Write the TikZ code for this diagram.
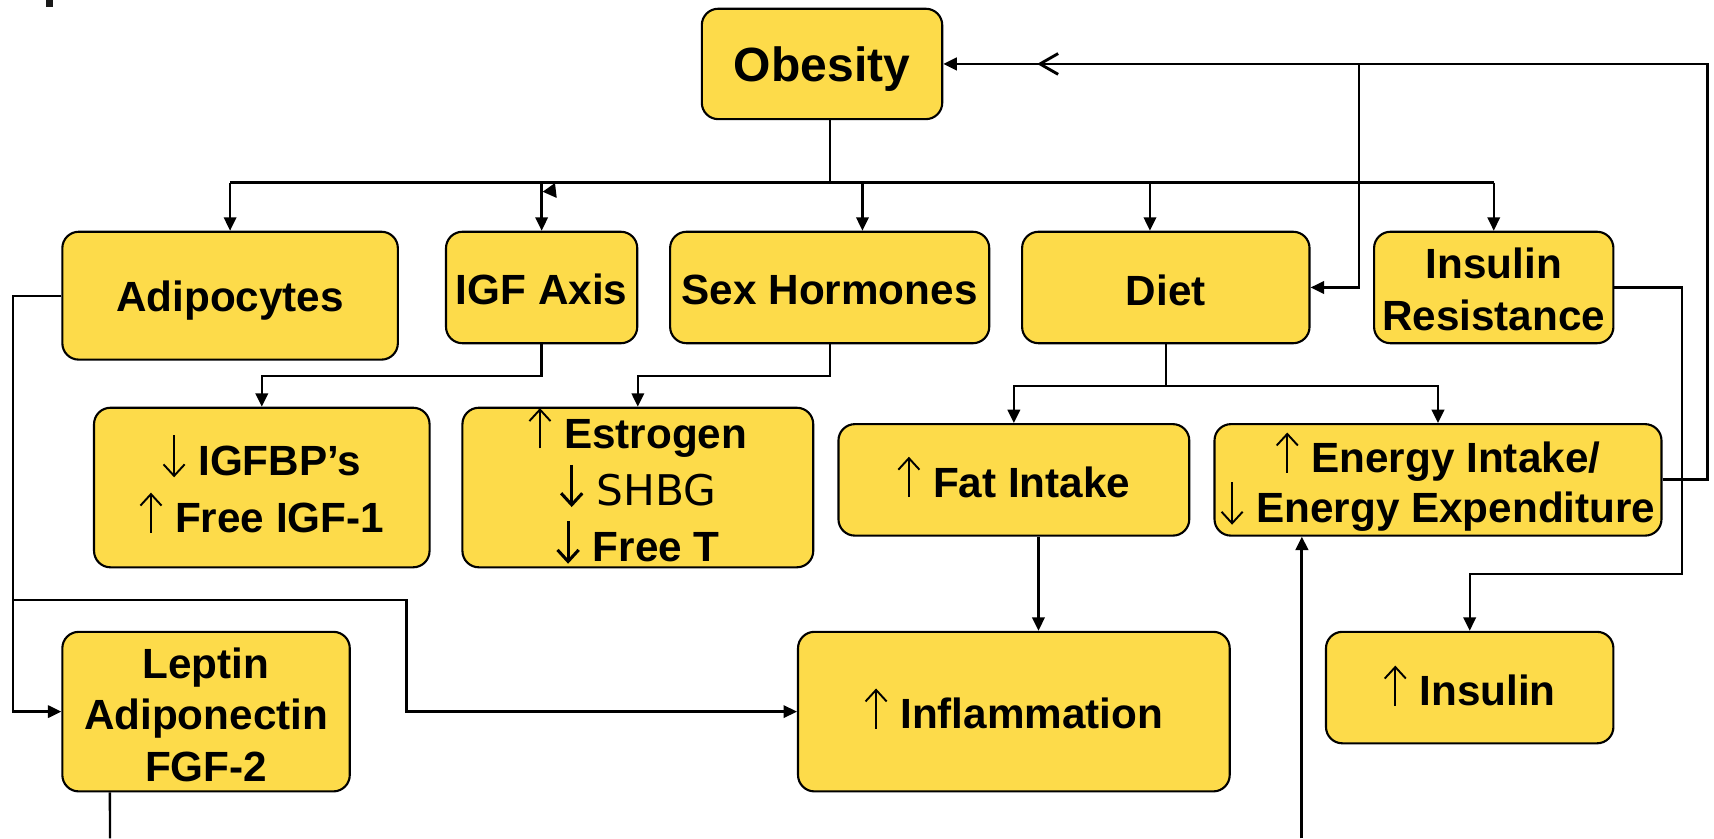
\documentclass[tikz,border=0pt]{standalone}
\usepackage{fontspec}
\setmainfont{Liberation Sans}
\newfontfamily\shbgfont{DejaVu Sans}
\usetikzlibrary{arrows.meta,calc}
\definecolor{boxfill}{RGB}{253,219,74}
% thin tall arrows set in front of the box texts
\newcommand{\up}[1][1pt]{\smash{\tikz[baseline=0pt]\draw[line width=#1,-{Straight Barb[length=6pt,width=11pt,line width=#1]}] (0pt,0pt) -- (0pt,21pt);}\hspace{0.3em}}
\newcommand{\dn}[1][1pt]{\smash{\tikz[baseline=0pt]\draw[line width=#1,-{Straight Barb[length=6pt,width=11pt,line width=#1]}] (0pt,21pt) -- (0pt,-1pt);}\hspace{0.3em}}
\begin{document}
\begin{tikzpicture}[x=0.02cm,y=-0.02cm,
  box/.style={draw=black,line width=1.1pt,fill=boxfill,rounded corners=0.3cm,inner sep=0pt},
  txt/.style={align=center,inner sep=0pt,font=\fontsize{22}{27}\selectfont\bfseries},
  conn/.style={draw=black,line width=1.2pt},
  thick conn/.style={draw=black,line width=1.5pt},
  arr/.style={conn,-{Triangle[length=7pt,width=6.5pt]}},
  thick arr/.style={thick conn,-{Triangle[length=7pt,width=6.5pt]}}]
\useasboundingbox (0,0) rectangle (1568,767);
% small corner mark
\fill[black!90] (42,0) rectangle (48.5,6.4);

% boxes (text is set as a centred label, lowered a little)
\node[box,minimum width=4.40cm,minimum height=2.02cm,
  label={[txt,yshift=-2.8pt,font=\fontsize{25}{30}\selectfont\bfseries]center:Obesity}] (obesity) at (752,58.5) {};
\node[box,minimum width=6.14cm,minimum height=2.34cm,
  label={[txt,yshift=-2.8pt]center:Adipocytes}] (adipo) at (210.5,270.5) {};
\node[box,minimum width=3.50cm,minimum height=2.04cm,
  label={[txt,yshift=-1.1pt]center:IGF Axis}] (igf) at (495.5,263) {};
\node[box,minimum width=5.84cm,minimum height=2.04cm,
  label={[txt,yshift=-1.1pt]center:Sex Hormones}] (sex) at (759,263) {};
\node[box,minimum width=5.26cm,minimum height=2.04cm,
  label={[txt,yshift=-1.7pt]center:Diet}] (diet) at (1066.5,263) {};
\node[box,minimum width=4.38cm,minimum height=2.04cm,
  label={[txt,yshift=-1.1pt]center:{Insulin\\Resistance}}] (insres) at (1366.5,263) {};
\node[box,minimum width=6.14cm,minimum height=2.92cm,
  label={[txt,yshift=-1.1pt,font=\fontsize{22}{30}\selectfont\bfseries]center:{\dn IGFBP’s\\\up Free IGF-1}}] (igfbp) at (239.5,446) {};
\node[box,minimum width=6.42cm,minimum height=2.92cm,
  label={[txt,yshift=-1.7pt,font=\fontsize{22}{29.5}\selectfont\bfseries]center:{\up Estrogen\\\dn[1.6pt]{\shbgfont\mdseries SHBG}\\\dn[1.6pt]Free T}}] (estro) at (583.5,446) {};
\node[box,minimum width=6.42cm,minimum height=2.04cm,
  label={[txt,yshift=-1.1pt]center:{\up Fat Intake}}] (fat) at (927.5,439) {};
\node[box,minimum width=8.18cm,minimum height=2.04cm,
  label={[txt,yshift=-3.7pt,font=\fontsize{22}{26}\selectfont\bfseries]center:{\up Energy Intake/\\\dn Energy Expenditure}}] (energy) at (1315.5,439) {};
\node[box,minimum width=5.26cm,minimum height=2.92cm,
  label={[txt,yshift=-1.7pt]center:{Leptin\\Adiponectin\\FGF-2}}] (leptin) at (188.5,651) {};
\node[box,minimum width=7.90cm,minimum height=2.92cm,
  label={[txt,yshift=-1.1pt]center:{\up Inflammation}}] (inflam) at (927.5,651) {};
\node[box,minimum width=5.26cm,minimum height=2.04cm,
  label={[txt,yshift=-1.7pt]center:{\up Insulin}}] (insulin) at (1344.5,629) {};

% junction points
\coordinate (bus) at (759,167);
\coordinate (sexin) at ($(sex.north)+(30,0)$);
\coordinate (dietin) at ($(diet.north)+(-14.5,0)$);
\coordinate (fatout) at ($(fat.south)+(22.5,0)$);
\coordinate (tap) at (1243,58.5);
\coordinate (adj) at (13,549);
\coordinate (lepout) at ($(leptin.south)+(-88,0)$);
\coordinate (lepend) at (100.6,767);
\coordinate (enin) at (1191,767);

% obesity fan-out
\draw[conn] ($(obesity.south)+(7,0)$) -- (bus);
\draw[thick conn] (adipo.north |- bus) -- (insres.north |- bus);
\draw[arr] (adipo.north |- bus) -- (adipo.north);
\draw[arr] (igf.north |- bus) -- (igf.north);
\draw[arr] (sexin |- bus) -- (sexin);
\draw[arr] (dietin |- bus) -- (dietin);
\draw[arr] (insres.north |- bus) -- (insres.north);
\fill[black] (496.5,175.4) -- (507.7,167.4) -- (509.3,181.1) -- cycle;

% second level
\draw[arr] (igf.south) -- ++(0,29) -| (igfbp.north);
\draw[arr] (sex.south) -- ++(0,29) -| (estro.north);
\draw[arr] (diet.south) -- ++(0,38) -| (fat.north);
\draw[arr] (diet.south) -- ++(0,38) -| (energy.north);
\draw[arr] (fatout) -- (fatout |- inflam.north);

% feedback to obesity and diet
\draw[thick arr] (energy.east) -- ++(41,0) |- (obesity.east);
\draw[thick conn] (968,49) -- (951.4,58.5) -- (968,68);
\draw[arr] (tap) |- (diet.east);

% insulin resistance to insulin
\draw[arr] (insres.east) -- ++(62,0) -- ++(0,262) -| (insulin.north);

% adipocyte outputs
\draw[arr] (adipo.west) -- ++(-44,0) |- (leptin.west);
\draw[arr] (adj) -- (372,549) |- (inflam.west);

% open ends at the bottom
\draw[conn] (lepout) -- (lepend);
\draw[thick arr] (enin) -- (enin |- energy.south);
\end{tikzpicture}
\end{document}
